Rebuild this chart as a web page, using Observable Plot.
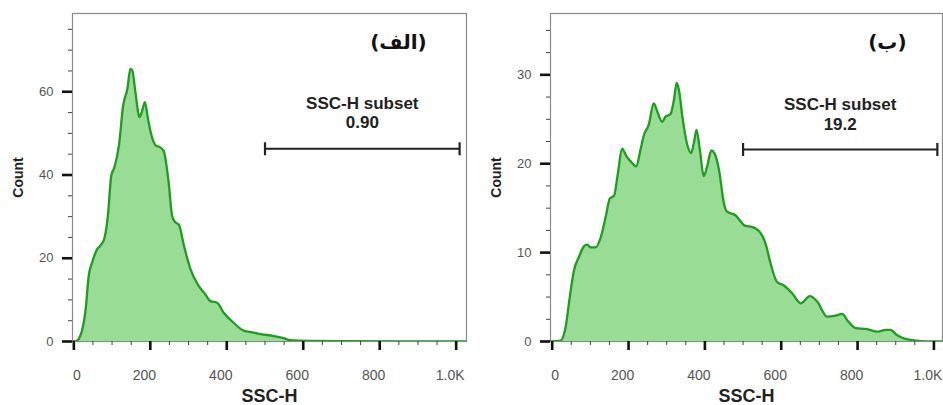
<!DOCTYPE html>
<html><head><meta charset="utf-8">
<script src="https://cdn.jsdelivr.net/npm/d3@7"></script>
<script src="https://cdn.jsdelivr.net/npm/@observablehq/plot@0.6"></script>
<style>
body{margin:0;background:#fff}
#wrap{display:flex;width:943px;height:405px;overflow:hidden}
#wrap svg{display:block;flex:none}
</style>
</head><body><div id="wrap"></div>
<script>
// ---- data ----
const leftSSC = [-3, 9, 14, 22, 31, 39, 48, 61, 71, 80, 89, 98, 106, 118, 129, 140, 148, 153, 161, 172, 179, 186, 194, 202, 214, 225, 235, 248, 257, 264, 275, 288, 305, 327, 344, 357, 375, 392, 418, 444, 466, 488, 523, 549, 566, 618, 700, 850, 1027];
const leftCount = [0, 0.2, 0.8, 2.8, 7.8, 15.8, 19.0, 22.2, 23.2, 24.8, 30.2, 39.9, 41.8, 47.1, 56.7, 60.7, 65.5, 65.1, 59.9, 53.9, 55.5, 57.5, 53.5, 49.9, 47.1, 46.7, 45.8, 38.2, 30.2, 28.8, 28.0, 23.0, 17.4, 13.3, 11.3, 9.7, 9.3, 6.9, 4.5, 2.6, 2.2, 1.8, 1.3, 0.8, 0.3, 0.15, 0.1, 0.05, 0.05];

const rightSSC = [-4, 22, 35, 46, 57, 70, 83, 92, 100, 114, 127, 140, 151, 162, 172, 183, 195, 207, 220, 231, 240, 253, 266, 275, 288, 297, 310, 319, 326, 332, 341, 354, 364, 371, 378, 387, 397, 406, 417, 425, 437, 450, 458, 480, 506, 523, 546, 559, 572, 589, 607, 629, 651, 675, 694, 720, 742, 760, 773, 795, 825, 851, 873, 886, 904, 925, 956, 982, 1023];
const rightCount = [0, 0.1, 1.6, 5.0, 8.0, 9.5, 10.7, 10.9, 10.6, 10.6, 11.7, 14.0, 16.1, 16.4, 18.9, 21.7, 20.8, 20.2, 19.7, 21.5, 23.2, 24.4, 26.8, 25.9, 24.7, 25.3, 25.6, 27.2, 29.1, 28.3, 25.3, 22.1, 21.2, 22.3, 23.8, 21.5, 18.6, 19.7, 21.5, 21.2, 19.3, 15.5, 14.6, 14.2, 13.0, 12.9, 12.2, 11.0, 8.8, 6.7, 6.3, 5.4, 4.3, 5.1, 4.5, 2.8, 2.9, 3.1, 2.4, 1.5, 1.4, 1.1, 1.3, 1.3, 0.7, 0.3, 0.1, 0, 0];

const xMajorTicks = [0, 200, 400, 600, 800, 1000];
const xTickLabels = ["0", "200", "400", "600", "800", "1.0K"];
const xMinorTicks = [50, 100, 150, 250, 300, 350, 450, 500, 550, 650, 700, 750, 850, 900, 950];
const leftYMajor = [0, 20, 40, 60];
const leftYMinor = [5, 10, 15, 25, 30, 35, 45, 50, 55, 65, 70, 75];
const rightYMajor = [0, 10, 20, 30];
const rightYMinor = [2.5, 5, 7.5, 12.5, 15, 17.5, 22.5, 25, 27.5, 32.5, 35];

const panelTags = ["(الف)", "(ب)"];
const gateLabel = "SSC-H subset";
const gatePercents = ["0.90", "19.2"];
const gateStart = 500, gateEnd = 1009;
const gateLevels = [46.3, 21.6];
const xLabel = "SSC-H", yLabel = "Count";

// ---- drawing ----
const fillGreen = "#98dc95", lineGreen = "#1e9e1e";
const capSymbol = {draw(ctx) { ctx.moveTo(0, -6.5); ctx.lineTo(0, 6.5); }};
const fmtX = d => xTickLabels[xMajorTicks.indexOf(d)];

function panel({width, marginLeft, marginRight, xDomain, yDomain, xs, ys, yMajor, yMinor, tag, tagX, gateY, pct, pctDy}) {
  const data = xs.map((x, i) => ({x, y: ys[i]}));
  const gate = [{x: gateStart, y: gateY}, {x: gateEnd, y: gateY}];
  const mid = (gateStart + gateEnd) / 2;
  return Plot.plot({
    width, height: 405,
    marginLeft, marginRight, marginTop: 13, marginBottom: 64,
    style: {fontFamily: "'Liberation Sans', Arial, sans-serif", background: "#fff"},
    x: {domain: xDomain},
    y: {domain: yDomain},
    marks: [
      Plot.frame({stroke: "#8a8a8a", strokeWidth: 1.2}),
      Plot.areaY(data, {x: "x", y: "y", fill: fillGreen, curve: "monotone-x", clip: true}),
      Plot.lineY(data, {x: "x", y: "y", stroke: lineGreen, strokeWidth: 2.3, curve: "monotone-x", clip: true}),
      // y axis
      Plot.axisY(yMinor, {tickSize: 4, strokeWidth: 1, stroke: "#444", fill: "none", label: null}),
      Plot.axisY(yMajor, {tickSize: 10, tickPadding: 9, strokeWidth: 2.6, stroke: "#111", fill: "#555", fontSize: 13, label: null}),
      // x axis
      Plot.axisX(xMinorTicks, {tickSize: 4, strokeWidth: 1, stroke: "#444", fill: "none", label: null}),
      Plot.axisX(xMajorTicks, {tickSize: 9, strokeWidth: 2.6, stroke: "#111", fill: "none", label: null}),
      Plot.axisX(xMajorTicks.slice(0, 1), {tickSize: 9, tickPadding: 20, stroke: "none", fill: "#555", fontSize: 14,
        tickFormat: fmtX, dx: 3, label: null}),
      Plot.axisX(xMajorTicks.slice(1), {tickSize: 9, tickPadding: 20, stroke: "none", fill: "#555", fontSize: 14,
        tickFormat: fmtX, dx: -6, label: null}),
      // axis titles
      Plot.text([yLabel], {frameAnchor: "left", dx: -54, rotate: -90, textAnchor: "middle", fontSize: 14, fontWeight: "bold", fill: "#222"}),
      Plot.text([xLabel], {frameAnchor: "bottom", dy: 60, textAnchor: "middle", fontSize: 18, fill: "#222", fontWeight: "bold"}),
      // gate
      Plot.ruleY([gateY], {x1: gateStart, x2: gateEnd, stroke: "#222", strokeWidth: 2}),
      Plot.dot(gate, {x: "x", y: "y", symbol: capSymbol, stroke: "#222", strokeWidth: 2.2, r: 6}),
      Plot.text([gateLabel], {x: mid, y: gateY, dy: -45, fontSize: 17, fontWeight: "bold", fill: "#222"}),
      Plot.text([pct], {x: mid, y: gateY, dy: pctDy, fontSize: 17, fontWeight: "bold", fill: "#222"}),
      // panel tag
      Plot.text([tag], {x: tagX, frameAnchor: "top", dy: 21, textAnchor: "middle", fontSize: 20, fontWeight: "bold", fill: "#111",
        fontFamily: "'DejaVu Sans', sans-serif"})
    ]
  });
}

const wrap = document.getElementById("wrap");
wrap.append(panel({
  width: 470, marginLeft: 72, marginRight: 4,
  xDomain: [-3.5, 1027], yDomain: [0, 78.8],
  xs: leftSSC, ys: leftCount, yMajor: leftYMajor, yMinor: leftYMinor,
  tag: panelTags[0], tagX: 849, gateY: gateLevels[0], pct: gatePercents[0], pctDy: -26
}));
wrap.append(panel({
  width: 473, marginLeft: 80, marginRight: 1,
  xDomain: [-4.5, 1022.5], yDomain: [0, 36.9],
  xs: rightSSC, ys: rightCount, yMajor: rightYMajor, yMinor: rightYMinor,
  tag: panelTags[1], tagX: 878, gateY: gateLevels[1], pct: gatePercents[1], pctDy: -25
}));
</script>
</body></html>
